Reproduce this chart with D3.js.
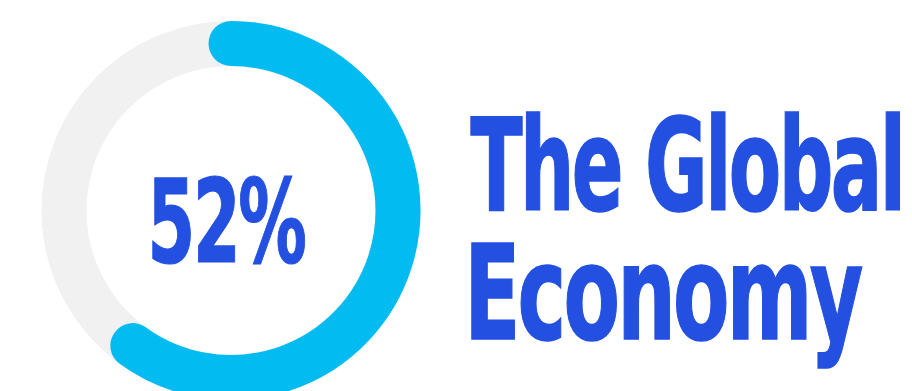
<!DOCTYPE html>
<html>
<head>
<meta charset="utf-8">
<script src="https://cdn.jsdelivr.net/npm/d3@7"></script>
<style>
  html, body { margin: 0; padding: 0; background: #ffffff; }
  svg { display: block; }
</style>
</head>
<body>
<svg id="chart" width="912" height="391"></svg>
<script>
// ---- data ----
const valueLabel = ["52%"];
const arcShare = [0.6];          // share of the ring covered by the coloured arc (as drawn)
const titleLines = ["The Global", "Economy"];

// ---- layout ----
const W = 912, H = 391;
const cx = 231, cy = 210.5, ringR = 167, ringW = 45;
const blue = "#2350E1", cyan = "#02BBF1", grey = "#F1F1F1";
const font = "'DejaVu Sans Condensed', 'DejaVu Sans', sans-serif";
const LS = -3; // letter spacing in 100px units

const svg = d3.select("#chart");

const angle = d3.scaleLinear().domain([0, 1]).range([-Math.PI / 2, 1.5 * Math.PI]);

// background ring
svg.append("circle")
  .attr("cx", cx).attr("cy", cy).attr("r", ringR)
  .attr("fill", "none").attr("stroke", grey).attr("stroke-width", ringW);

// value arc
const arcPath = d3.path();
arcPath.arc(cx, cy, ringR, angle(0), angle(arcShare[0]), false);
svg.append("path")
  .attr("d", arcPath.toString())
  .attr("fill", "none")
  .attr("stroke", cyan)
  .attr("stroke-width", ringW)
  .attr("stroke-linecap", "round");

// helper to fit text ink into a target box
function fitText(sel, text, left, right, top, base, add) {
  const ctx = document.createElement("canvas").getContext("2d");
  ctx.font = "bold 100px " + font;
  if ("letterSpacing" in ctx) ctx.letterSpacing = LS + "px";
  const m = ctx.measureText(text);
  const inkL = -m.actualBoundingBoxLeft, inkR = m.actualBoundingBoxRight;
  const inkTop = m.actualBoundingBoxAscent;
  let sx = (right - left) / (inkR - inkL), sy = (base - top) / inkTop;
  const hx = add / 2, hy = add / 2 * sy / sx;
  sx = (right - left - 2 * hx) / (inkR - inkL);
  sy = (base - top - 2 * hy) / inkTop;
  const w = add / sx;
  sel.append("text")
    .attr("x", 0).attr("y", 0)
    .attr("font-family", font)
    .attr("font-weight", "bold")
    .attr("font-size", 100)
    .attr("letter-spacing", LS)
    .attr("fill", blue)
    .attr("stroke", blue)
    .attr("stroke-width", w)
    .attr("stroke-linejoin", "miter")
    .attr("transform", `translate(${left + hx - inkL * sx},${base - hy}) scale(${sx},${sy})`)
    .text(text);
}

fitText(svg, valueLabel[0], 151.7, 305.7, 174.3, 262.3, 0.8);
fitText(svg, titleLines[0], 470, 900.7, 111.7, 210.5, 1);
fitText(svg, titleLines[1], 471, 863.3, 241.7, 340, 1);
</script>
</body>
</html>
